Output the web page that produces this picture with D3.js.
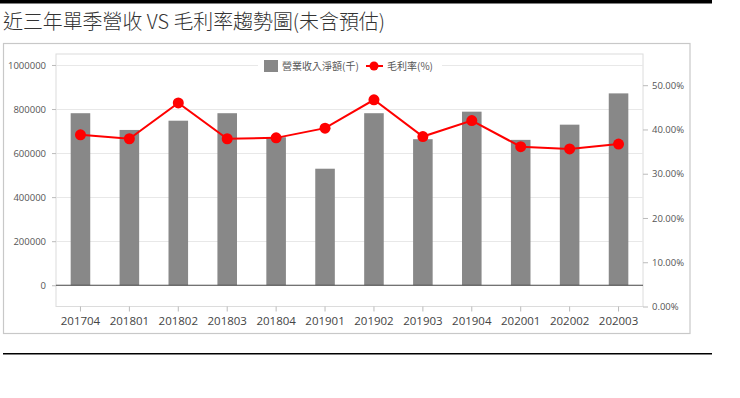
<!DOCTYPE html>
<html><head><meta charset="utf-8">
<script src="https://cdn.jsdelivr.net/npm/d3@7"></script>
<style>
html,body{margin:0;padding:0;background:#fff;}
svg{display:block;font-family:"Open Sans","Noto Sans CJK TC",sans-serif;}
</style></head>
<body><svg id="c" width="740" height="398"></svg>
<script>
const title = "近三年單季營收 VS 毛利率趨勢圖(未含預估)";
const categories = ["201704","201801","201802","201803","201804","201901","201902","201903","201904","202001","202002","202003"];
const revenue = [781000,705000,747000,781000,672000,529000,781000,663000,788000,660000,729000,871000];
const grossMargin = [38.8,37.9,46.0,37.9,38.1,40.3,46.7,38.4,42.0,36.1,35.6,36.7];
const leftTicks = [0,200000,400000,600000,800000,1000000];
const rightTicks = [0,10,20,30,40,50];
const legendLabels = ["營業收入淨額(千)","毛利率(%)"];

const svg = d3.select("#c");
const L = 56, R = 643, T = 54, B = 306.5;

// header lines
svg.append("rect").attr("x",0).attr("y",0).attr("width",712).attr("height",3.5).attr("fill","#000");
svg.append("text").attr("x",3).attr("y",29).attr("font-size",20).attr("font-weight",300).attr("fill","#333")
  .attr("textLength",382).attr("lengthAdjust","spacingAndGlyphs")
  .attr("font-family","'Noto Sans CJK TC',sans-serif").text(title);
svg.append("rect").attr("x",3).attr("y",353).attr("width",709).attr("height",1.5).attr("fill","#000");

// frame
svg.append("rect").attr("x",3.5).attr("y",43.5).attr("width",686.5).attr("height",290)
  .attr("fill","#fff").attr("stroke","#c8c8c8").attr("stroke-width",1.2);

const x = d3.scaleBand().domain(categories).range([L,R]).paddingInner(0.6).paddingOuter(0.3);
const y = d3.scaleLinear().domain([-96500,1049800]).range([B,T]);
const y2 = d3.scaleLinear().domain([0,57.05]).range([B,T]);

// plot border
svg.append("rect").attr("x",L).attr("y",T).attr("width",R-L).attr("height",B-T)
  .attr("fill","none").attr("stroke","#dcdcdc").attr("stroke-width",1);

// gridlines
svg.append("g").selectAll("line").data(leftTicks.filter(d=>d!==0)).join("line")
  .attr("x1",L).attr("x2",R).attr("y1",d=>Math.round(y(d))+0.5).attr("y2",d=>Math.round(y(d))+0.5)
  .attr("stroke","#e8e8e8");

// left axis
const ga = svg.append("g").attr("transform",`translate(${L},0)`)
  .call(d3.axisLeft(y).tickValues(leftTicks).tickSize(4).tickPadding(6).tickFormat(d3.format("d")));
ga.select(".domain").remove();
ga.selectAll("line").attr("stroke","#bbb");
ga.selectAll("text").attr("font-size",9.5).attr("fill","#555").attr("font-family","'Open Sans',sans-serif");

// right axis
const gr = svg.append("g").attr("transform",`translate(${R},0)`)
  .call(d3.axisRight(y2).tickValues(rightTicks).tickSize(5).tickPadding(4).tickFormat(d=>d.toFixed(2)+"%"));
gr.select(".domain").remove();
gr.selectAll("line").attr("stroke","#bbb");
gr.selectAll("text").attr("font-size",9.5).attr("fill","#555").attr("font-family","'Open Sans',sans-serif");

// bottom axis
const gb = svg.append("g").attr("transform",`translate(0,${B})`)
  .call(d3.axisBottom(x).tickSize(5).tickPadding(5));
gb.select(".domain").remove();
gb.selectAll("line").attr("stroke","#bbb");
gb.selectAll("text").attr("font-size",11.5).attr("fill","#444").attr("font-family","'Open Sans',sans-serif");

// bars
svg.append("g").selectAll("rect").data(categories).join("rect")
  .attr("x",d=>x(d)).attr("width",x.bandwidth())
  .attr("y",(d,i)=>y(revenue[i])).attr("height",(d,i)=>y(0)-y(revenue[i]))
  .attr("fill","#888888");

// zero line
svg.append("line").attr("x1",L).attr("x2",R).attr("y1",y(0)).attr("y2",y(0))
  .attr("stroke","#444").attr("stroke-width",1.2);

// line
const line = d3.line().x((d,i)=>x(categories[i])+x.bandwidth()/2).y(d=>y2(d));
svg.append("path").datum(grossMargin).attr("d",line).attr("fill","none")
  .attr("stroke","#f00").attr("stroke-width",2);
svg.append("g").selectAll("circle").data(grossMargin).join("circle")
  .attr("cx",(d,i)=>x(categories[i])+x.bandwidth()/2).attr("cy",d=>y2(d)).attr("r",5.5)
  .attr("fill","#f00");

// legend
const lg = svg.append("g");
lg.append("rect").attr("x",258).attr("y",58).attr("width",184).attr("height",15).attr("fill","#fff");
lg.append("rect").attr("x",264).attr("y",60).attr("width",14).attr("height",12).attr("fill","#888");
lg.append("text").attr("x",282).attr("y",70).attr("font-size",10).attr("fill","#555")
  .attr("font-family","'Noto Sans CJK TC',sans-serif").text(legendLabels[0]);
lg.append("line").attr("x1",366).attr("x2",383).attr("y1",66).attr("y2",66).attr("stroke","#f00").attr("stroke-width",2);
lg.append("circle").attr("cx",374).attr("cy",66).attr("r",4.5).attr("fill","#f00");
lg.append("text").attr("x",387).attr("y",70).attr("font-size",10).attr("fill","#555")
  .attr("font-family","'Noto Sans CJK TC',sans-serif").text(legendLabels[1]);
</script></body></html>
